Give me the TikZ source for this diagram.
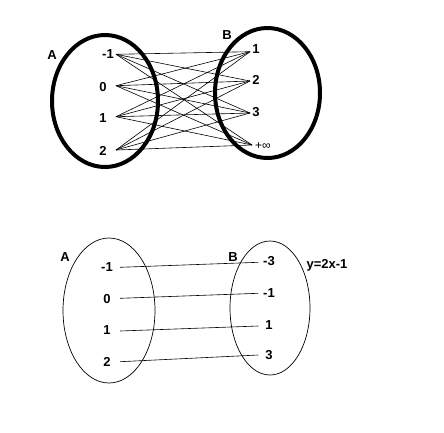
\documentclass[tikz,border=0pt]{standalone}
\usepackage{fontspec}
\setmainfont{Liberation Sans}
\begin{document}
\begin{tikzpicture}[x=1pt, y=-1pt,
    setring/.style={line width=4pt},
    thinring/.style={line width=0.7pt},
    mapline/.style={line width=0.6pt},
    elem/.style={font=\fontsize{13}{13}\selectfont\bfseries, inner sep=0pt}]
    \useasboundingbox (0,0) rectangle (444,432);

    % all pairs from A to B
    \begin{scope}
        \draw[setring] (105,101) ellipse (53 and 66);
        \draw[setring] (267.5,93) ellipse (52.5 and 65);
        \node[elem] (setA) at (52,55) {A};
        \node[elem] (setB) at (227,35) {B};
        \foreach \v/\x/\y [count=\i] in {-1/108/54, 0/103/87, 1/103/118, 2/103/151}{
            \node[elem] (a\i) at (\x,\y) {\v};
        }
        \foreach \v/\x/\y [count=\i] in {1/256/49, 2/256/80, 3/256/112}{
            \node[elem] (b\i) at (\x,\y) {\v};
        }
        \node[elem, font=\fontsize{12}{12}\selectfont] (b4) at (263,146) {+∞};
        \foreach \y [count=\i] in {54.3,85.7,116.7,150}{
            \coordinate (pa\i) at (116,\y);
        }
        \foreach \x/\y [count=\i] in {250/51.7, 250/81, 250/113, 252/145}{
            \coordinate (pb\i) at (\x,\y);
        }
        \foreach \i in {1,...,4}{
            \foreach \j in {1,...,4}{
                \draw[mapline] (pa\i) -- (pb\j);
            }
        }
    \end{scope}

    % y=2x-1
    \begin{scope}
        \draw[thinring] (109,310.5) ellipse (46 and 72.5);
        \draw[thinring] (270,308) ellipse (40 and 67);
        \node[elem] (setC) at (65,257) {A};
        \node[elem] (setD) at (233,257) {B};
        \node[elem] (rule) at (327,265) {y=2x-1};
        \foreach \v/\y [count=\i] in {-1/267, 0/299, 1/330, 2/362}{
            \node[elem] (c\i) at (107,\y) {\v};
        }
        \foreach \v/\y [count=\i] in {-3/261, -1/293, 1/325, 3/355}{
            \node[elem] (d\i) at (269,\y) {\v};
        }
        \foreach \ya/\yb [count=\i] in {267.3/262.3, 298.3/293.3, 331/326, 361.7/355}{
            \coordinate (pc\i) at (120,\ya);
            \coordinate (pd\i) at (258.3,\yb);
            \draw[mapline] (pc\i) -- (pd\i);
        }
    \end{scope}
\end{tikzpicture}
\end{document}
